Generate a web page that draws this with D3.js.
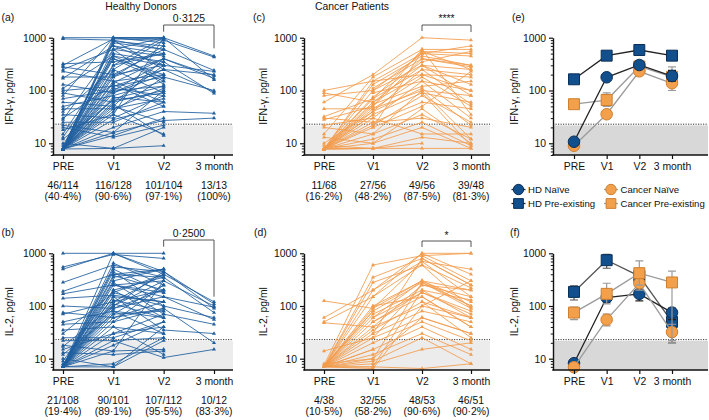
<!DOCTYPE html>
<html><head><meta charset="utf-8">
<script src="https://cdn.jsdelivr.net/npm/d3@7"></script>
<style>body{margin:0;background:#fff;} svg{display:block;font-family:"Liberation Sans",Arial,Helvetica,sans-serif;}</style>
</head><body><svg id="c" width="709" height="420"></svg>
<script>
// ---------------- DATA ----------------
const categories = ["PRE", "V1", "V2", "3 month"];

// Healthy donors, IFN-gamma (pg/ml) per subject: [PRE, V1, V2, 3 month]
const hdIfn = [
 [1000,1000,1000,null],[950,900,600,null],[7.8,1000,1000,450],[320,350,500,null],[300,950,900,null],
 [7.8,850,700,null],[280,200,300,230],[250,600,1000,null],[7.8,500,350,null],[230,150,200,null],
 [180,180,400,190],[170,700,500,null],[7.8,400,150,null],[130,90,250,null],[7.8,300,1000,160],
 [110,450,300,null],[100,120,180,null],[7.8,250,90,null],[90,60,100,null],[7.8,200,600,240],
 [80,1000,800,null],[70,100,120,null],[7.8,150,60,null],[60,50,400,null],[7.8,120,250,95],
 [50,80,150,null],[45,45,70,null],[7.8,90,200,null],[40,250,900,430],[7.8,70,120,null],
 [35,30,80,null],[7.8,60,300,null],[30,130,50,null],[7.8,40,180,100],[28,600,450,null],
 [7.8,50,25,null],[25,25,60,null],[7.8,20,40,37],[22,16,100,null],[7.8,14,30,null],
 [20,13,22,null],[7.8,100,350,88],[18,35,15,null],[7.8,8,20,null],[15,400,200,null],
 [7.8,16,27,30],[13,300,500,null],[7.8,900,250,200],[12,65,90,null],[7.8,180,700,null],
 [10,8,9,null],[7.8,55,14,null],[7.8,35,1000,null],[7.8,75,60,null],[7.8,450,170,null],
 [7.8,140,400,170],[8,800,600,null],[7.8,28,50,null],[7.8,600,130,null],[7.8,110,80,null],
 [null,1000,950,null],[null,700,300,null],[7.8,230,null,null],[9,500,null,null],[7.8,45,110,null]
];
// Healthy donors, IL-2
const hdIl2 = [
 [1000,1000,1000,null],[550,950,800,null],[500,1000,450,110],[280,600,350,null],[190,400,500,null],
 [170,250,150,95],[140,160,120,null],[100,90,200,null],[75,60,90,null],[70,120,400,120],
 [50,80,60,null],[45,50,250,null],[35,40,30,null],[30,180,100,60],[25,25,50,null],
 [22,22,25,null],[18,14,15,null],[17,100,300,100],[15,30,40,null],[13,12,14,null],
 [12,70,80,null],[10,7,22,null],[9,200,350,75],[8,150,120,null],[7,650,250,null],
 [7,550,450,90],[7,500,180,null],[7,450,100,null],[7,350,500,null],[7,280,70,45],
 [7,250,300,null],[7,200,60,null],[7,180,400,null],[7,150,35,30],[7,120,200,null],
 [7,100,450,null],[7,90,150,55],[7,80,30,null],[7,70,250,null],[7,60,120,null],
 [7,50,90,20],[7,40,12,null],[7,30,70,null],[7,22,10.5,15],[7,18,50,null],
 [7,14,300,null],[7,7,40,null],[7,1000,400,null],[7,380,200,null],[7,130,80,null],
 [7.5,300,500,null],[7,110,60,null],[null,400,350,null],[null,250,180,null],[7,8,25,null]
];
// Cancer patients, IFN-gamma
const caIfn = [
 [100,150,500,700],[90,60,200,100],[80,100,300,250],[60,200,1000,900],[45,45,100,80],
 [32,70,550,500],[30,25,60,45],[28,50,400,280],[22,30,150,30],[20,15,35,12],
 [15,180,600,600],[13,10,20,8],[10,40,250,200],[9,8,13,10],[7.8,130,450,300],
 [7.8,75,350,550],[7.8,55,120,150],[7.8,35,90,60],[7.8,22,80,25],[7.8,20,50,230],
 [7.8,12,25,9],[7.8,8,8,8],[7.8,100,500,450],[7.8,60,300,130],[7.8,45,180,50],
 [7.8,40,110,22],[7.8,30,15,15],[7.8,150,200,180],[7.8,50,600,35],[7.8,25,30,20],
 [7.8,8,10,null],[7.8,70,250,55],[7.8,15,100,12],[7.8,10,45,10],[null,110,400,300],
 [null,90,150,100],[null,20,550,250],[7.8,35,null,null],[7.8,8,null,null],[7.8,null,null,null],
 [null,null,300,80],[null,null,90,9]
];
// Cancer patients, IL-2
const caIl2 = [
 [125,90,300,200],[60,200,700,500],[50,150,1000,1000],[48,40,100,60],[14,25,250,150],
 [8,10,60,30],[7.5,600,900,300],[7,350,800,250],[7,280,600,220],[7,100,300,100],
 [7,80,280,90],[7,70,200,130],[7,60,180,80],[7,50,150,40],[7,35,120,25],
 [7,30,80,50],[7,20,50,22],[7,15,40,15],[7,12,30,12],[7,9,25,8],
 [7,8,15,20],[7,7,6.5,8],[7,6.5,100,300],[7,7,200,60],[7,90,700,150],
 [7,40,250,200],[7,150,600,90],[7,25,60,30],[7,200,1000,400],[7,10,280,100],
 [null,60,300,120],[null,100,150,40],[null,30,800,250],[null,50,180,70],[null,null,900,1000],
 [null,null,120,60],[7,15,null,null],[7,80,null,null]
];

// responder counts under each time point
const hdIfnCounts = ["46/114","116/128","101/104","13/13"];
const hdIfnPct = ["(40·4%)","(90·6%)","(97·1%)","(100%)"];
const hdIl2Counts = ["21/108","90/101","107/112","10/12"];
const hdIl2Pct = ["(19·4%)","(89·1%)","(95·5%)","(83·3%)"];
const caIfnCounts = ["11/68","27/56","49/56","39/48"];
const caIfnPct = ["(16·2%)","(48·2%)","(87·5%)","(81·3%)"];
const caIl2Counts = ["4/38","32/55","48/53","46/51"];
const caIl2Pct = ["(10·5%)","(58·2%)","(90·6%)","(90·2%)"];

const sigLabels = {a:"0·3125", b:"0·2500", c:"****", d:"*"};
const threshold = 23;

// summary panels (mean, [low, high] error)
const seriesNames = ["HD Naïve","HD Pre-existing","Cancer Naïve","Cancer Pre-existing"];
const eHdNaive = [10.7,178,304,188];
const eHdNaiveErr = [[9.5,12],[160,200],[260,360],[150,240]];
const eHdPre = [163,457,585,457];
const eHdPreErr = [[140,190],[420,500],[480,700],[420,500]];
const eCaNaive = [9,35.5,231,137];
const eCaNaiveErr = [[8.5,9.5],[30,42],[200,280],[100,180]];
const eCaPre = [55,66,285,182];
const eCaPreErr = [[50,62],[50,90],[240,340],[130,280]];

const fHdNaive = [8.2,145,170,75];
const fHdNaiveErr = [[7.8,8.6],[120,180],[125,230],[55,90]];
const fHdPre = [185,740,370,50];
const fHdPreErr = [[130,240],[520,950],[260,480],[20,80]];
const fCaNaive = [6.9,55,270,32];
const fCaNaiveErr = [[6.6,7.3],[42,70],[200,360],[22,45]];
const fCaPre = [75,170,420,280];
const fCaPreErr = [[55,95],[110,270],[250,720],[20,460]];

// ---------------- DRAWING ----------------
const svg = d3.select("#c");
const FS = 10.4;
const BLUE = "#1f5f9f", ORANGE = "#f39c4c";
const NAVY = "#124f8d", NAVY_S = "#0b2f57", ORG = "#f2a04c", ORG_S = "#cf7f2e";

function scales(p){
  return {
    x: d3.scalePoint().domain(categories).range([p.xa, p.xb]),
    y: d3.scaleLog().domain([p.ymin, 1000]).range([p.y1, p.y0])
  };
}

function frame(p, s, shade){
  const g = svg.append("g");
  const ty = s.y(threshold);
  g.append("rect").attr("x", p.x0).attr("y", ty + 1.2).attr("width", p.x1 - p.x0)
    .attr("height", p.y1 - ty - 1.2).attr("fill", shade);
  g.append("line").attr("x1", p.x0).attr("x2", p.x1).attr("y1", ty).attr("y2", ty)
    .attr("stroke", "#333").attr("stroke-width", 1).attr("stroke-dasharray", "1.2,1.3");
  return g;
}

function axes(p, s, ylabel){
  const minors = [];
  [1,10,100].forEach(b => { for (let k = 2; k <= 9; k++) { const v = b*k; if (v >= p.ymin && v < 1000) minors.push(v); } });
  const ya = svg.append("g").attr("transform", `translate(${p.x0},0)`)
    .call(d3.axisLeft(s.y).tickValues([10,100,1000]).tickFormat(d3.format("d")).tickSize(4).tickSizeOuter(0).tickPadding(3));
  ya.select(".domain").attr("stroke", "#111").attr("stroke-width", 1.4);
  ya.selectAll(".tick line").attr("stroke", "#111").attr("stroke-width", 1.2);
  ya.selectAll("text").attr("font-size", FS).attr("font-family", "Liberation Sans, Arial").attr("fill", "#111");
  const ym = svg.append("g").attr("transform", `translate(${p.x0},0)`)
    .call(d3.axisLeft(s.y).tickValues(minors).tickFormat("").tickSize(2.2).tickSizeOuter(0));
  ym.select(".domain").remove();
  ym.selectAll(".tick line").attr("stroke", "#111").attr("stroke-width", 1);

  const xa = svg.append("g").attr("transform", `translate(0,${p.y1})`)
    .call(d3.axisBottom(s.x).tickSize(4).tickPadding(4));
  xa.select(".domain").remove();
  xa.selectAll(".tick line").attr("stroke", "#111").attr("stroke-width", 1.2);
  xa.selectAll("text").attr("font-size", FS).attr("font-family", "Liberation Sans, Arial").attr("fill", "#111");
  svg.append("line").attr("x1", p.x0 - 0.7).attr("x2", p.x1).attr("y1", p.y1).attr("y2", p.y1)
    .attr("stroke", "#111").attr("stroke-width", 1.4);

  svg.append("text").attr("transform", `translate(${p.lx},${(p.y0 + p.y1)/2}) rotate(-90)`)
    .attr("text-anchor", "middle").attr("dominant-baseline", "central")
    .attr("font-size", FS).attr("fill", "#111").text(ylabel);
}

function counts(p, s, c1, c2){
  categories.forEach((cat, i) => {
    svg.append("text").attr("x", s.x(cat)).attr("y", p.y1 + 33.5).attr("text-anchor", "middle")
      .attr("font-size", FS).attr("fill", "#111").text(c1[i]);
    svg.append("text").attr("x", s.x(cat)).attr("y", p.y1 + 45).attr("text-anchor", "middle")
      .attr("font-size", FS).attr("fill", "#111").text(c2[i]);
  });
}

function spaghetti(p, s, data, color){
  const g = svg.append("g");
  const segs = [];
  data.forEach(r => { for (let i = 0; i < 3; i++) if (r[i] != null && r[i+1] != null) segs.push([i, r[i], r[i+1]]); });
  g.selectAll("line.s").data(segs).join("line")
    .attr("x1", d => s.x(categories[d[0]])).attr("x2", d => s.x(categories[d[0]+1]))
    .attr("y1", d => s.y(d[1])).attr("y2", d => s.y(d[2]))
    .attr("stroke", color).attr("stroke-width", 0.95).attr("stroke-opacity", 0.9);
  const pts = [];
  data.forEach(r => r.forEach((v, i) => { if (v != null) pts.push([i, v]); }));
  const tri = d3.symbol(d3.symbolTriangle, 7);
  g.selectAll("path.p").data(pts).join("path")
    .attr("d", tri).attr("transform", d => `translate(${s.x(categories[d[0]])},${s.y(d[1])})`)
    .attr("fill", color);
}

function bracket(s, yt, yl, yr, label, ly){
  svg.append("path").attr("d", `M${s.x("V2")},${yl}V${yt}H${s.x("3 month")}V${yr}`)
    .attr("fill", "none").attr("stroke", "#555").attr("stroke-width", 1);
  svg.append("text").attr("x", (s.x("V2") + s.x("3 month"))/2).attr("y", ly).attr("text-anchor", "middle")
    .attr("font-size", FS).attr("fill", "#111").text(label);
}

function summary(s, vals, errs, lineColor, fill, stroke, shape){
  const g = svg.append("g");
  g.append("path").datum(vals).attr("d", d3.line().x((d, i) => s.x(categories[i])).y(d => s.y(d)))
    .attr("fill", "none").attr("stroke", lineColor).attr("stroke-width", 1.3);
  errs.forEach((e, i) => {
    const x = s.x(categories[i]);
    g.append("path").attr("d", `M${x},${s.y(e[0])}V${s.y(e[1])}M${x-4},${s.y(e[0])}H${x+4}M${x-4},${s.y(e[1])}H${x+4}`)
      .attr("stroke", lineColor).attr("stroke-width", 1.2).attr("fill", "none");
  });
  const sym = d3.symbol(shape === "circle" ? d3.symbolCircle : d3.symbolSquare, shape === "circle" ? 105 : 120);
  g.selectAll("path.m").data(vals).join("path")
    .attr("d", sym).attr("transform", (d, i) => `translate(${s.x(categories[i])},${s.y(d)})`)
    .attr("fill", fill).attr("stroke", stroke).attr("stroke-width", 1);
}

function txt(x, y, t, anchor){
  svg.append("text").attr("x", x).attr("y", y).attr("text-anchor", anchor || "start")
    .attr("font-size", FS).attr("fill", "#111").text(t);
}

// panel geometry
const P = {
  a: {x0:53, x1:233, xa:63, xb:214, y0:37.7, y1:155, ymin:6, lx:9},
  b: {x0:53, x1:233, xa:63, xb:214, y0:253.3, y1:370, ymin:6.1, lx:9},
  c: {x0:304, x1:490, xa:324, xb:471, y0:37.7, y1:155, ymin:6, lx:263},
  d: {x0:304, x1:490, xa:324, xb:471, y0:253.3, y1:370, ymin:6.1, lx:263},
  e: {x0:553, x1:708, xa:574, xb:672, y0:37.7, y1:155, ymin:6, lx:514},
  f: {x0:553, x1:708, xa:574, xb:672, y0:253.3, y1:370, ymin:6.1, lx:514}
};
const S = {};
Object.keys(P).forEach(k => S[k] = scales(P[k]));

// shading
["a","b","c","d"].forEach(k => frame(P[k], S[k], "#ececec"));
["e","f"].forEach(k => frame(P[k], S[k], "#d8d8d8"));

// spaghetti
spaghetti(P.a, S.a, hdIfn, BLUE);
spaghetti(P.b, S.b, hdIl2, BLUE);
spaghetti(P.c, S.c, caIfn, ORANGE);
spaghetti(P.d, S.d, caIl2, ORANGE);

// summaries
summary(S.e, eCaPre, eCaPreErr, "#9b9b9b", ORG, ORG_S, "square");
summary(S.e, eCaNaive, eCaNaiveErr, "#9b9b9b", ORG, ORG_S, "circle");
summary(S.e, eHdPre, eHdPreErr, "#222", NAVY, NAVY_S, "square");
summary(S.e, eHdNaive, eHdNaiveErr, "#222", NAVY, NAVY_S, "circle");
summary(S.f, fHdPre, fHdPreErr, "#555", NAVY, NAVY_S, "square");
summary(S.f, fHdNaive, fHdNaiveErr, "#222", NAVY, NAVY_S, "circle");
summary(S.f, fCaNaive, fCaNaiveErr, "#9b9b9b", ORG, ORG_S, "circle");
summary(S.f, fCaPre, fCaPreErr, "#9b9b9b", ORG, ORG_S, "square");

// axes
axes(P.a, S.a, "IFN-γ, pg/ml");
axes(P.b, S.b, "IL-2, pg/ml");
axes(P.c, S.c, "IFN-γ, pg/ml");
axes(P.d, S.d, "IL-2, pg/ml");
axes(P.e, S.e, "IFN-γ, pg/ml");
axes(P.f, S.f, "IL-2, pg/ml");

counts(P.a, S.a, hdIfnCounts, hdIfnPct);
counts(P.b, S.b, hdIl2Counts, hdIl2Pct);
counts(P.c, S.c, caIfnCounts, caIfnPct);
counts(P.d, S.d, caIl2Counts, caIl2Pct);

bracket(S.a, 25, 31.7, 48.3, sigLabels.a, 21.5);
bracket(S.b, 240, 246.7, 296.7, sigLabels.b, 236.5);
bracket(S.c, 25, 31, 32, sigLabels.c, 22);
bracket(S.d, 241, 247, 247, sigLabels.d, 238.5);

// titles and panel letters
txt(141, 10, "Healthy Donors", "middle");
txt(352, 10, "Cancer Patients", "middle");
txt(1.5, 20.5, "(a)"); txt(253, 20.5, "(c)"); txt(512, 20.5, "(e)");
txt(1.5, 236, "(b)"); txt(254, 236, "(d)"); txt(510, 236, "(f)");

// legend
const legend = [
  {x:518.5, y:189.5, name:seriesNames[0], fill:NAVY, stroke:NAVY_S, line:"#222", shape:"circle"},
  {x:518.5, y:203.5, name:seriesNames[1], fill:NAVY, stroke:NAVY_S, line:"#222", shape:"square"},
  {x:611, y:189.5, name:seriesNames[2], fill:ORG, stroke:ORG_S, line:"#9b9b9b", shape:"circle"},
  {x:611, y:203.5, name:seriesNames[3], fill:ORG, stroke:ORG_S, line:"#9b9b9b", shape:"square"}
];
legend.forEach(l => {
  svg.append("line").attr("x1", l.x - 7).attr("x2", l.x + 7).attr("y1", l.y).attr("y2", l.y)
    .attr("stroke", l.line).attr("stroke-width", 1.3);
  svg.append("path").attr("d", d3.symbol(l.shape === "circle" ? d3.symbolCircle : d3.symbolSquare, l.shape === "circle" ? 85 : 95))
    .attr("transform", `translate(${l.x},${l.y})`).attr("fill", l.fill).attr("stroke", l.stroke);
  svg.append("text").attr("x", l.x + 9.5).attr("y", l.y).attr("dominant-baseline", "central")
    .attr("font-size", 9.6).attr("fill", "#111").text(l.name);
});
</script></body></html>
